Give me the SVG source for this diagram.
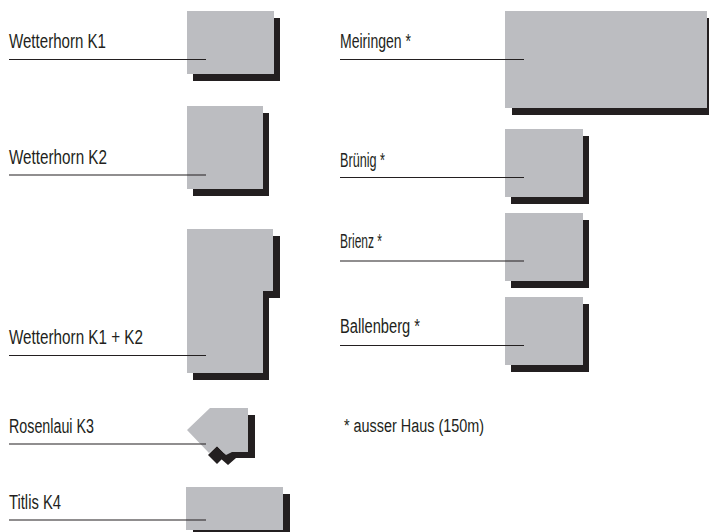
<svg xmlns="http://www.w3.org/2000/svg" width="709" height="532" viewBox="0 0 709 532">
<style>
.g{fill:#bcbdc1}
.s{fill:#231f20}
.t{font-family:"Liberation Sans",Arial,sans-serif;font-size:19.5px;fill:#231f20}
.l{stroke:#231f20;stroke-width:1.2;fill:none}
</style>
<rect width="709" height="532" fill="#ffffff"/>
<g id="wetterhorn-k1">
<rect class="s" x="193" y="18" width="87" height="63"/>
<rect class="g" x="187" y="11" width="87" height="63"/>
<text class="t" x="9" y="48" textLength="97" lengthAdjust="spacingAndGlyphs">Wetterhorn K1</text>
</g>
<g id="wetterhorn-k2">
<rect class="s" x="193" y="113" width="76" height="83"/>
<rect class="g" x="187" y="106" width="76" height="83"/>
<text class="t" x="9" y="164" textLength="98" lengthAdjust="spacingAndGlyphs">Wetterhorn K2</text>
</g>
<g id="wetterhorn-k1-k2">
<polygon class="s" points="193,236 280,236 280,298 269,298 269,380 193,380"/>
<polygon class="g" points="187,229 273,229 273,291 263,291 263,373 187,373"/>
<text class="t" x="9" y="344" textLength="134" lengthAdjust="spacingAndGlyphs">Wetterhorn K1 + K2</text>
</g>
<g id="rosenlaui-k3">
<polygon class="s" points="208,455 217,446 226,455 217,464"/>
<polygon class="s" points="241,415 255,415 255,458 236,458 228,465 220,458 228,450 241,450"/>
<polygon class="g" points="187,430 210,408 248,408 248,452 232,452 226,455 217,446 209,453"/>
<text class="t" x="9" y="432.5" textLength="85" lengthAdjust="spacingAndGlyphs">Rosenlaui K3</text>
</g>
<g id="titlis-k4">
<rect class="s" x="193" y="494" width="97" height="43"/>
<rect class="g" x="186" y="487" width="97" height="43"/>
<text class="t" x="9" y="509" textLength="52" lengthAdjust="spacingAndGlyphs">Titlis K4</text>
</g>
<g id="meiringen">
<rect class="s" x="512" y="18" width="202" height="97"/>
<rect class="g" x="505" y="11" width="202" height="97"/>
<text class="t" x="340" y="48" textLength="71" lengthAdjust="spacingAndGlyphs">Meiringen *</text>
</g>
<g id="bruenig">
<rect class="s" x="511" y="136" width="78" height="68"/>
<rect class="g" x="505" y="129" width="78" height="68"/>
<text class="t" x="340" y="166.5" textLength="45" lengthAdjust="spacingAndGlyphs">Brünig *</text>
</g>
<g id="brienz">
<rect class="s" x="511" y="220" width="78" height="68"/>
<rect class="g" x="505" y="213" width="78" height="68"/>
<text class="t" x="340" y="248" textLength="42" lengthAdjust="spacingAndGlyphs">Brienz *</text>
</g>
<g id="ballenberg">
<rect class="s" x="511" y="304" width="78" height="68"/>
<rect class="g" x="505" y="297" width="78" height="68"/>
<text class="t" x="340" y="333" textLength="80" lengthAdjust="spacingAndGlyphs">Ballenberg *</text>
</g>
<g id="connectors">
<line class="l" x1="9" y1="59.5" x2="206" y2="59.5"/>
<line class="l" x1="9" y1="175" x2="206" y2="175"/>
<line class="l" x1="9" y1="355.5" x2="206" y2="355.5"/>
<line class="l" x1="9" y1="444" x2="206" y2="444"/>
<line class="l" x1="9" y1="520" x2="206" y2="520"/>
<line class="l" x1="340" y1="59.5" x2="524" y2="59.5"/>
<line class="l" x1="340" y1="177.5" x2="524" y2="177.5"/>
<line class="l" x1="340" y1="261" x2="524" y2="261"/>
<line class="l" x1="340" y1="345.5" x2="524" y2="345.5"/>
</g>
<text class="t" x="344" y="432.3" style="font-size:18px" textLength="140" lengthAdjust="spacingAndGlyphs">* ausser Haus (150m)</text>
</svg>
